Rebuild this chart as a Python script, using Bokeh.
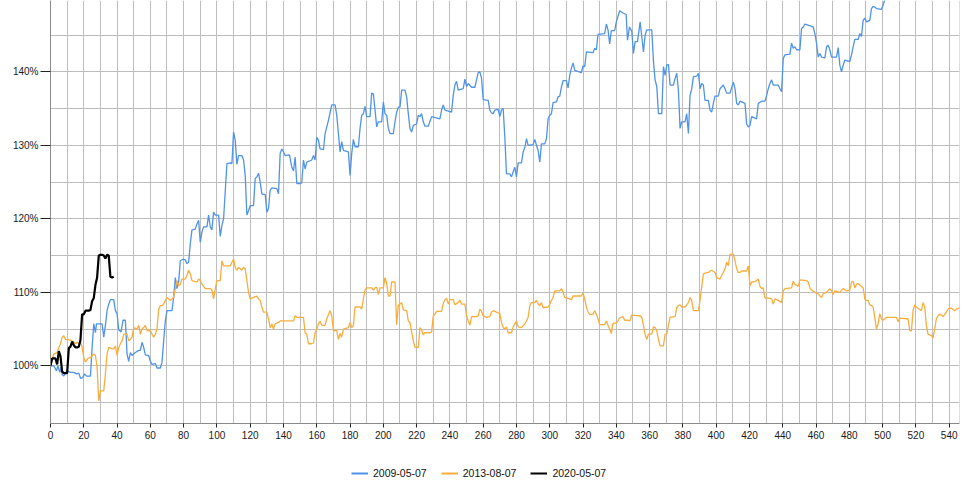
from bokeh.plotting import figure
from bokeh.layouts import column
from bokeh.models import (Range1d, SingleIntervalTicker, PrintfTickFormatter,
                          Legend, LegendItem, Span)
from bokeh.embed import file_html
from bokeh.resources import INLINE

series_names = ["2009-05-07", "2013-08-07", "2020-05-07"]
series_colors = ["#4f93ea", "#fbad3c", "#000000"]

blue_x = [0, 2, 3.6, 4.4, 5.6, 6.4, 7, 8, 9, 10, 12, 14, 15.6, 17, 18, 19.4, 20.4, 21.6, 24, 25, 26, 27, 27.6, 31, 32, 33, 34, 35, 36, 38, 39, 40, 41, 42.4, 43.6, 45, 46, 47, 48, 49, 51, 53, 54, 55, 56, 57, 59, 60, 61, 63, 64, 66, 67, 68, 69, 70, 73, 74, 75, 76, 77, 78, 79.6, 81, 82, 83, 84, 85, 87, 88, 89, 90, 91, 92, 94, 95, 96, 97, 98, 99, 101, 102, 103, 104,
          106, 108, 109, 110, 111, 112, 113, 115, 116, 117, 118, 119, 120, 122, 123, 124, 125, 126, 127, 129, 130, 131, 132, 133, 136, 137, 138, 139, 140, 141, 143.6, 145, 146, 147, 148, 150.4, 151, 152, 153, 154, 157, 158, 159, 160, 161, 162, 164, 165, 167,
          169, 171, 172, 173, 174, 175, 176, 179, 180, 181, 182, 183, 185, 186, 187, 188, 189, 190, 192, 193, 194, 195, 196, 197, 199, 200, 201, 202, 203, 204, 206, 207, 208, 209, 210, 211, 213, 214, 215, 216, 217, 218, 220, 221, 222, 223, 224, 225, 227, 229, 234, 235, 236, 237, 241, 242, 243, 244, 245, 248, 249, 250, 251, 253, 255, 256, 257, 258, 259, 260, 263, 264, 265, 266, 267, 269, 270, 271, 272, 273, 274, 276, 277, 278, 279, 280, 281, 283, 284, 285, 286, 287, 290, 291, 292, 293, 294, 295, 297, 298, 299, 300, 301, 302, 304, 305, 306, 307, 308, 310, 311, 312, 313, 314, 315, 319, 320, 321, 322, 326, 327, 328, 329, 333, 334, 335, 336, 337, 339, 340, 342, 344, 345.9,
          346.7, 347.9, 349.3, 350.3, 351.3, 352.7, 354.3, 356.3, 357.3, 358.3, 361.3, 362.3, 363.3, 364.3, 365.3, 367.3, 368.3, 369.3, 370.3, 371.3, 372.3, 374.3, 375.3, 376.3, 377.3, 378.3, 379.3, 381.3, 382.3, 383.3, 384.3, 385.3, 386.3, 388.3, 389.3, 390.3, 391.3, 392.3, 393.3, 395.3, 396.3, 397.3, 398.3, 399.3, 401.3, 402.3, 404.3, 405.3, 406.3, 408.3, 410.3, 411.3, 412.3, 413.3, 414.3, 417.3, 418.3, 419.3, 420.3, 421.3, 424.3, 425.3, 427.3, 429.3, 430.3, 431.3, 432.3, 433.3, 434.3, 437.3, 438.3, 439.3, 440.3, 441.3, 444.3, 445.3, 446.3, 447.3, 448.3, 450.3, 451.3, 452.3, 453.3, 458.3, 459.3, 460.3, 461.3, 462.3, 463.3, 465.3, 466.3, 467.3, 468.3, 469.3, 472.3, 473.3, 474.3, 475.3, 476.3, 477.3, 480.3, 481.3, 482.3, 483.3, 485.3, 486.3, 487.3, 488.3, 489.3, 490.3, 492.3, 493.3, 494.3, 495.3, 496.3, 499.3, 500.3, 501.3, 503, 506]
blue_y = [100, 100, 99.3, 100, 99.1, 99.8, 98.8, 98.6, 99.1, 99.3, 99.1, 99.1, 98.9, 99, 98.3, 98.4, 98.9, 98.6, 98.6, 102.5, 105.7, 104.5, 105.7, 105.7, 103.9, 105.5, 107.5, 108.4, 109, 109, 107.5, 107.1, 104.9, 104.6, 106.2, 106.2, 101.6, 100.6, 101.8, 101.4, 101.8, 102.1, 102.1, 103.2, 102.5, 101.5, 101.4, 100.6, 100.2, 100.3, 99.7, 99.7, 100.5, 103.4, 106.1, 107.5, 107.5, 109.3, 112, 110.5, 111.4, 114.3, 114.5, 114.4, 113.9, 114.1, 116.6, 118.5, 118.6, 119.3, 119.8, 116.8, 118.2, 118.9, 118.9, 120.5, 118.9, 118.5, 120.9, 120.5, 120.5, 117.6, 119.1, 120,
          127.5, 127.6, 127.5, 131.8, 130.7, 127.4, 128.6, 128.6, 128, 125.9, 120.5, 121.1, 121.8, 121.8, 125.5, 125.7, 126.2, 125, 123.4, 123.3, 120.9, 121.4, 123.9, 124.2, 124.1, 123.4, 128.9, 129.5, 129.1, 128.6, 128.7, 127, 126.5, 128.4, 124.8, 124.8, 125, 128, 126.8, 127.7, 128, 128.6, 128, 131.1, 130.7, 129.5, 129.4, 131.6, 133.4,
          135.5, 135.5, 134.1, 131.6, 129.1, 130.5, 129.3, 129.1, 125.9, 128.9, 130.8, 129.8, 129.8, 132.3, 134.1, 134.3, 135.3, 133.9, 133.9, 137.1, 137, 134.8, 132.5, 133.2, 133.2, 135.9, 134.3, 134.1, 132.3, 131.6, 131.6, 133.2, 134.5, 135.2, 135.2, 137.5, 137.5, 136.6, 134.3, 132.3, 131.8, 132.7, 132.9, 134.1, 133.9, 134.3, 133.2, 132.6, 132.6, 133.9, 133.6, 134.8, 135.5, 134.8, 134.5, 136.8, 138.2, 138.7, 137.5, 137.7, 139, 138, 138.4, 137.9, 137.9, 138.9, 139.9, 140, 139.1, 136.2, 136.1, 134.8, 134.4, 134.3, 134.8, 134.9, 133.9, 134.8, 135, 131.1, 126.1, 126.1, 125.7, 126.4, 127, 125.7, 127.6, 127.6, 129.1, 129.7, 130.9, 130, 130.1, 130.8, 130, 129.3, 127.7, 130.2, 130.2, 130.9, 133.6, 134.1, 134.3, 135.8, 135.9, 136.6, 136.7, 137.9, 138.8, 138.8, 137.8, 139.5, 140.5, 141.2, 140.2, 139.9, 140.8, 140.7, 142.7, 142.6, 143.2, 143, 145.1, 145.2, 146.5, 145.7, 143.8, 145.6, 145.6, 146.8, 148.3, 148, 147.8,
          144.3, 146.1, 145.5, 142.5, 144.1, 144.1, 146.8, 142.7, 145, 145.7, 145.7, 141.4, 138.9, 138, 134.3, 134.3, 140.7, 139.5, 140.9, 141, 138.2, 138.2, 139.1, 139.8, 137.5, 132.3, 133.2, 133.2, 134.3, 131.6, 136.8, 137.7, 139.3, 139.4, 139.8, 137.7, 138.4, 138.2, 136.1, 136.1, 134.8, 134.5, 135.7, 136.7, 136.7, 137.7, 138.2, 137.7, 137.1, 137.1, 138.6, 137.7, 135.7, 135.5, 136, 135.7, 132.9, 132.5, 132.7, 133.9, 133.6, 135.7, 136, 136, 136.8, 137.7, 138.4, 138.9, 138.2, 138.2, 137.7, 137.3, 141.8, 142.3, 142.4, 143.9, 143.2, 143.4, 143, 143, 145.9, 146.1, 146.5, 146.1, 145.2, 143.9, 142, 142.5, 142, 141.9, 143.4, 143.6, 143, 142, 142, 143.3, 140.9, 140, 140.9, 141.6, 141.4, 142.3, 143.4, 144.4, 144.4, 145.2, 144.8, 147, 147.3, 146.8, 147, 148.6, 148.9, 148.8, 148.6, 148.5, 149.1, 149.8, 151, 151.5]

orange_x = [0, 1, 2, 4, 5, 6, 7, 8, 9, 12, 14, 15, 16, 17, 18, 19, 20, 21, 22.4, 24, 26, 27, 28, 29, 30, 32, 33, 34, 35, 37, 38, 39, 40, 41, 42, 43, 44, 46, 47, 48, 49, 50, 52, 53, 54, 55, 56, 57, 58, 60, 61, 62, 63, 64, 65, 66, 67, 68, 69, 70, 72, 74, 75, 76, 77, 78, 79, 81, 82, 83, 84, 85, 88, 89, 90, 91, 93, 96, 97, 98, 99, 100, 102, 103, 104, 106, 108, 109, 110, 111, 112, 113, 115, 116, 117, 118, 119, 120, 122, 124, 125, 126, 127, 128, 130, 131, 132, 133, 134, 135, 137, 138, 146, 147, 148, 152, 153, 154, 155, 157, 158, 159, 160, 161, 162, 163, 165, 166, 168,
            169, 170, 172, 173, 174, 175, 176, 179, 180, 181, 182, 183, 186, 187, 188, 189, 190, 193, 194, 195, 196, 197, 198, 200, 201, 202, 203, 204, 205, 207, 208, 209, 211, 212, 214, 215, 216, 218, 219, 221, 222, 223, 224, 225, 228, 229, 230, 231, 232, 235, 236, 237, 238, 239, 240, 242, 243, 245, 246, 247, 249, 250, 251, 252, 253, 256, 257, 258, 259, 260, 262, 264, 265, 266, 268, 270, 271, 272, 273, 274, 275, 277, 278, 279, 280, 281, 283, 285, 286, 287, 288, 289, 291, 292, 293, 294, 295, 296, 299, 300, 301, 302, 303, 306, 307, 308, 309, 312, 313, 314, 319, 320, 321, 322, 323, 324, 326, 327, 328, 329, 330, 333, 334, 335, 336, 337, 338, 340, 341, 342, 344, 345, 347, 348,
            349.3, 354.3, 355.3, 356.3, 357.3, 358.3, 359.3, 361.3, 362.3, 363.3, 364.3, 365.3, 366.3, 368.3, 369.3, 370.3, 371.3, 372.3, 375.3, 376.3, 377.3, 378.3, 379.3, 381.3, 382.3, 383.3, 384.3, 385.3, 386.3, 389.3, 390.3, 391.3, 392.3, 393.3, 395.3, 396.3, 397.3, 399.3, 400.3, 402.3, 403.3, 404.3, 405.3, 406.3, 407.3, 408.3, 410.3, 411.3, 412.3, 413.3, 414.3, 415.3, 418.3, 419.3, 420.3, 421.3, 422.3, 424.3, 425.3, 426.3, 427.3, 428.3, 429.3, 432.3, 433.3, 434.3, 435.3, 437.3, 439.3, 440.3, 441.3, 445.3, 446.3, 447.3, 449.3, 450.3, 454.3, 455.3, 456.3, 457.3, 459.3, 461.3, 462.3, 463.3, 464.3, 466.3, 468.3, 469.3, 470.3, 471.3, 474.3, 476.3, 478.3, 480.3, 481.3, 482.3, 483.3, 484.3, 485.3, 487.3, 488.3, 489.3, 490.3, 491.3, 492.3, 493.3, 494.3, 495.3, 496.3, 497.3, 498.3, 499.3, 500.3, 502.3, 508.3, 509.3, 510.3, 514.3, 515.3, 516.3, 517.3, 518.3, 519.3, 520.3, 523.3, 524.3, 525.3, 526.3, 527.3, 529.3, 530.3, 531.3, 532.3, 533.3, 534.3, 535.3, 536.3, 537.3, 538.3, 539.3, 540.3, 542.3, 543.3, 544.3, 546.3]
orange_y = [100.2, 100.9, 101.6, 101.8, 102.5, 103, 103.9, 104.1, 103.6, 103.5, 103.2, 103, 103.2, 103, 103.4, 102.5, 101.1, 100.5, 101, 101.1, 101.6, 101.4, 99.8, 95.2, 96.6, 96.6, 98.9, 101.6, 102.5, 102.3, 102.3, 102.7, 101.4, 102.5, 103, 103.4, 104.3, 104.3, 103.4, 103.6, 103.9, 105.2, 105, 105.5, 104.3, 105, 105.2, 105.5, 104.8, 104.8, 104.3, 103.9, 104.3, 105, 107.7, 108.2, 108.2, 108.4, 108.9, 109.3, 108.9, 109.3, 110.5, 111.6, 110.9, 111.1, 111.8, 111.8, 112.3, 113, 112.5, 111.6, 111.4, 111.8, 111.6, 111.1, 110.5, 110.5, 110.3, 109.1, 110.5, 111.6, 111.6, 114.3, 113.6, 113.6, 113.6, 114.1, 114.5, 113.4, 113, 113.4, 113, 113.4, 113.2, 111.6, 110, 109.1, 109.3, 109.5, 109.1, 108.9, 108, 107.3, 107.3, 106.4, 105.2, 105.7, 105, 105.7, 105.9, 106.1, 106.1, 106.8, 106.6, 106.6, 104.5, 104.3, 103, 103, 103.1, 104.5, 105, 105.7, 106.1, 105.5, 105.5, 106.4, 107.5,
            106.8, 104.8, 104.8, 103.6, 104.4, 103.9, 105, 105.2, 105.9, 105.2, 105.5, 108, 108, 107.7, 109.1, 110.3, 110.6, 110.6, 110.3, 110.6, 110.7, 109.7, 110.6, 110.6, 112, 111.2, 109.5, 109.5, 111.4, 111.4, 105.6, 108.2, 108.6, 107.6, 107.5, 106.1, 105.9, 103.4, 102.5, 102.5, 105.2, 104.9, 104.2, 104.5, 104.5, 104.6, 106.8, 107, 107.4, 107.4, 108.5, 109, 109.2, 108.4, 109, 109, 108.3, 108.6, 108.9, 108.4, 108.4, 106.8, 106.1, 105.5, 106.7, 106.7, 106.8, 107.7, 107.4, 106.8, 106.6, 106.7, 107.3, 107.5, 107.3, 107.1, 105.9, 105.2, 105, 105.3, 104.5, 104.5, 105.3, 105.7, 106.1, 105.3, 105.2, 105.7, 106.1, 106.6, 108.2, 108.6, 108.6, 108.9, 108.4, 108.2, 108.6, 107.9, 108, 108.4, 108.9, 109.3, 110.2, 110.2, 110.5, 110, 109.3, 109.1, 109, 109.5, 109.5, 109.9, 109.1, 108, 107.3, 107, 107, 107.5, 107, 106.4, 105.6, 105.6, 106.1, 105.5, 105, 104.4, 105.8, 105.8, 106.1, 106.5, 106.7, 106.2, 106.2, 106.1,
            106.9, 106.8, 106.6, 105.5, 104.3, 103.6, 104.3, 104.3, 105.3, 105.2, 104.8, 103.6, 102.7, 102.7, 104.3, 104.3, 105.5, 106.6, 106.7, 107.9, 108.2, 108.3, 108, 108, 108.3, 108.6, 109.3, 108.9, 107.5, 107.5, 108.9, 110.7, 112.5, 112.6, 112.7, 112.9, 113, 112.7, 112, 111.8, 112.3, 112.7, 113.2, 114.1, 113.6, 115.2, 115.2, 114.3, 113.2, 112.7, 112.7, 112.9, 112.9, 113.6, 110.9, 111.4, 111.4, 111.6, 111.8, 110.8, 110.5, 110.6, 109.2, 109.2, 109.1, 108.4, 109.1, 108.9, 108.6, 110.2, 110.5, 110.6, 111.5, 111.1, 110.8, 111.7, 111.6, 111.4, 110.6, 110.3, 110, 109.8, 109.5, 109.3, 109.8, 110, 110.5, 110.2, 109.7, 110.2, 110, 110.5, 110.2, 110.3, 111.4, 111.5, 110.6, 111.1, 111.2, 110.8, 110.6, 109.1, 108.9, 108.9, 108.3, 108.2, 108, 106.6, 105, 105.7, 107.1, 106.4, 106.2, 106.6, 106.6, 106, 106.5, 106.4, 106.4, 104.8, 104.7, 107.5, 108.3, 108, 107.5, 108.6, 108, 105.5, 104.3, 104.1, 103.8, 105, 106.4, 106.8, 107, 106.9, 106.7, 107, 107.3, 107.7, 107.9, 107.7, 107.5, 107.7, 107.9]

black_x = list(range(39))
black_y = [100, 101, 101, 101, 100.2, 102, 101.3, 99.2, 99, 99, 99, 102.4, 102.6, 103.3, 102.8, 102.5, 102.5, 102.6, 103.5, 107, 107, 107.5, 107.5, 107.5, 107.6, 108.8, 109.2, 111, 112, 115, 115.1, 115.1, 115, 114.6, 115.1, 115, 112.1, 112, 112.1]

X_START, X_END = 0, 546.2
Y_START, Y_END = 92.15, 149.7
FONT = "Liberation Sans"

p = figure(width=960, height=446,
           x_range=Range1d(X_START, X_END), y_range=Range1d(Y_START, Y_END),
           output_backend="svg", toolbar_location=None,
           min_border_left=50, min_border_right=1, min_border_top=0, min_border_bottom=23)
p.outline_line_color = None
p.background_fill_color = "white"
p.border_fill_color = "white"

# grids
p.xgrid.ticker = SingleIntervalTicker(interval=10)
p.ygrid.ticker = SingleIntervalTicker(interval=5)
for g in (p.xgrid, p.ygrid):
    g.grid_line_color = "#bdbdbd"
    g.grid_line_width = 1

# axes
p.xaxis.ticker = SingleIntervalTicker(interval=20, num_minor_ticks=0)
p.yaxis.ticker = SingleIntervalTicker(interval=10, num_minor_ticks=0)
p.yaxis.formatter = PrintfTickFormatter(format="%d%%")
for ax in (p.xaxis, p.yaxis):
    ax.axis_line_color = "#8a8a8a"
    ax.major_tick_line_color = "#222222"
    ax.minor_tick_line_color = None
    ax.major_tick_in = 0
    ax.major_label_text_font = FONT
    ax.major_label_text_font_size = "10px"
    ax.major_label_text_color = "#1a1a1a"
p.xaxis.major_tick_out = 4
p.xaxis.major_label_standoff = 3
p.yaxis.major_tick_out = 10
p.yaxis.major_label_standoff = 2

# right frame border
p.add_layout(Span(location=X_END, dimension="height", line_color="#bdbdbd", line_width=1))

widths = [1.3, 1.3, 2.2]
for xs, ys, color, lw in ((blue_x, blue_y, series_colors[0], widths[0]),
                          (orange_x, orange_y, series_colors[1], widths[1]),
                          (black_x, black_y, series_colors[2], widths[2])):
    p.line(xs, ys, line_color=color, line_width=lw)

# legend strip below the chart (swatch renderers hold a single point, so they draw nothing)
lg = figure(width=960, height=54, output_backend="svg", toolbar_location=None,
            x_axis_type=None, y_axis_type=None,
            x_range=Range1d(0, 1), y_range=Range1d(0, 1),
            min_border_left=0, min_border_right=0, min_border_top=0, min_border_bottom=0)
lg.outline_line_color = None
lg.background_fill_color = "white"
lg.border_fill_color = "white"
swatches = [lg.line([0], [0], line_color=c, line_width=2) for c in series_colors]

legend = Legend(items=[LegendItem(label=n, renderers=[r]) for n, r in zip(series_names, swatches)],
                orientation="horizontal", location=(301, 17),
                glyph_width=17, glyph_height=20, label_standoff=5, spacing=14,
                padding=5, margin=0,
                label_text_font=FONT, label_text_font_size="10.5px", label_text_color="#111111",
                border_line_color=None, background_fill_alpha=0)
lg.add_layout(legend)

layout = column(p, lg, spacing=0)
open("out.html", "w").write(file_html(layout, INLINE))
